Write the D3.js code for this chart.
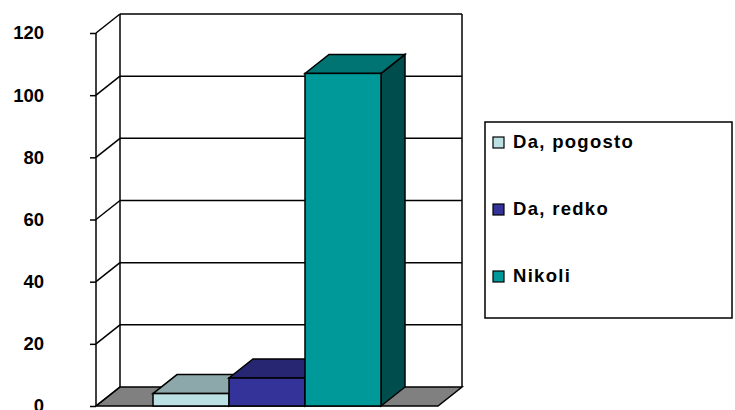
<!DOCTYPE html>
<html>
<head>
<meta charset="utf-8">
<script src="https://cdn.jsdelivr.net/npm/d3@7/dist/d3.min.js"></script>
<style>
  html, body { margin: 0; padding: 0; background: #fff; }
  svg { display: block; font-family: "Liberation Sans", Arial, sans-serif; }
</style>
</head>
<body>
<svg id="chart" width="735" height="410"></svg>
<script>
// Survey answers (one category, three series)
const seriesNames = ["Da, pogosto", "Da, redko", "Nikoli"];
const seriesValues = [4, 9, 107];
const tickValues = [0, 20, 40, 60, 80, 100, 120];

// Face colours per series: front, top, side
const frontColors = ["#BBE0E3", "#333399", "#009999"];
const topColors   = ["#8DA8AA", "#262673", "#007373"];
const sideColors  = ["#728A8C", "#1A1A4D", "#004D4D"];

const svg = d3.select("#chart");

// Front plane of the plot and the 3-D depth offset
const plotLeft = 96, plotRight = 438, plotBottom = 406, plotTop = 33;
const dx = 24, dy = -19;

const y = d3.scaleLinear().domain([0, 120]).range([plotBottom, plotTop]);
const x = d3.scaleBand().domain(seriesNames).range([plotLeft, plotRight])
  .paddingInner(0).paddingOuter(0.75);

const poly = pts => pts.map(p => p.join(",")).join(" ");

// Floor
svg.append("polygon")
  .attr("points", poly([[plotLeft, plotBottom], [plotRight, plotBottom],
    [plotRight + dx, plotBottom + dy], [plotLeft + dx, plotBottom + dy]]))
  .attr("fill", "#808080").attr("stroke", "#000").attr("stroke-width", 1.5);

// Back wall gridlines and left wall diagonals
const grid = svg.append("g").attr("stroke", "#000").attr("stroke-width", 1.5).attr("fill", "none");
tickValues.forEach(v => {
  if (v > 0) {
    grid.append("line")
      .attr("x1", plotLeft + dx).attr("x2", plotRight + dx)
      .attr("y1", y(v) + dy).attr("y2", y(v) + dy);
  }
  grid.append("line")
    .attr("x1", plotLeft).attr("y1", y(v))
    .attr("x2", plotLeft + dx).attr("y2", y(v) + dy);
});
// Wall edges
grid.append("line").attr("x1", plotLeft + dx).attr("x2", plotLeft + dx)
  .attr("y1", y(120) + dy).attr("y2", y(0) + dy);
grid.append("line").attr("x1", plotRight + dx).attr("x2", plotRight + dx)
  .attr("y1", y(120) + dy).attr("y2", y(0) + dy);

// Bars: side, top, front faces
const bars = svg.append("g").attr("stroke", "#000").attr("stroke-width", 1.5)
  .attr("stroke-linejoin", "miter");
seriesNames.forEach((name, i) => {
  const x0 = x(name), x1 = x0 + x.bandwidth();
  const y0 = y(0), y1 = y(seriesValues[i]);
  const g = bars.append("g");
  g.append("polygon")
    .attr("points", poly([[x1, y1], [x1 + dx, y1 + dy], [x1 + dx, y0 + dy], [x1, y0]]))
    .attr("fill", sideColors[i]);
  g.append("polygon")
    .attr("points", poly([[x0, y1], [x1, y1], [x1 + dx, y1 + dy], [x0 + dx, y1 + dy]]))
    .attr("fill", topColors[i]);
  g.append("rect")
    .attr("x", x0).attr("y", y1)
    .attr("width", x1 - x0).attr("height", y0 - y1)
    .attr("fill", frontColors[i]);
});

// Value axis on the front-left edge
const axis = svg.append("g")
  .attr("transform", `translate(${plotLeft},0)`)
  .call(d3.axisLeft(y).tickValues(tickValues).tickSize(6).tickPadding(46));
axis.select(".domain").attr("stroke", "#000").attr("stroke-width", 1.5)
  .attr("d", `M0,${y(120)}V${y(0)}`);
axis.selectAll(".tick line").attr("stroke", "#000").attr("stroke-width", 1.5);
axis.selectAll(".tick text")
  .attr("fill", "#000")
  .style("font-family", "'Liberation Sans', Arial, sans-serif")
  .style("font-size", "18.5px").style("font-weight", "bold");

// Legend
const legend = svg.append("g");
legend.append("rect")
  .attr("x", 485).attr("y", 122).attr("width", 247).attr("height", 196)
  .attr("fill", "#fff").attr("stroke", "#000").attr("stroke-width", 1.5);
seriesNames.forEach((name, i) => {
  const base = 148 + i * 67;
  legend.append("rect")
    .attr("x", 493).attr("y", base - 11).attr("width", 11).attr("height", 11)
    .attr("fill", frontColors[i]).attr("stroke", "#000").attr("stroke-width", 1.2);
  legend.append("text")
    .attr("x", 513).attr("y", base)
    .attr("font-size", "18.5px").attr("font-weight", "bold")
    .attr("letter-spacing", "1.3px")
    .text(name);
});
</script>
</body>
</html>
